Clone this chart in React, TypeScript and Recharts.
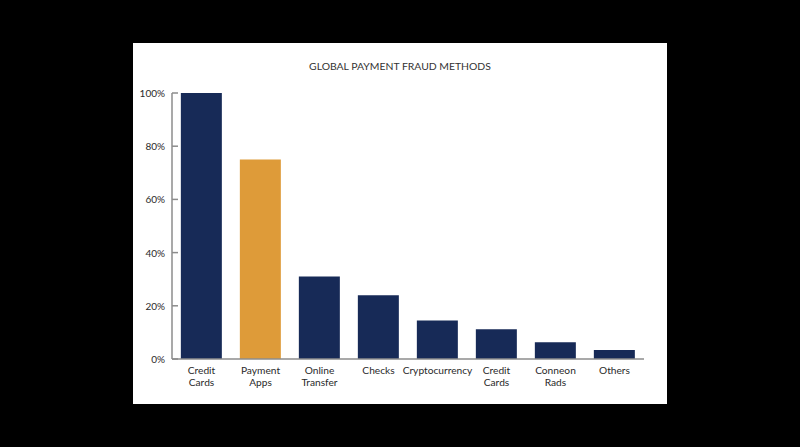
import React from "react";
import { BarChart, Bar, XAxis, YAxis, Cell } from "recharts";

const categories = [
  "Credit Cards",
  "Payment Apps",
  "Online Transfer",
  "Checks",
  "Cryptocurrency",
  "Credit Cards ",
  "Conneon Rads",
  "Others",
];
const values = [100, 75, 31, 24, 14.5, 11.2, 6.3, 3.4];
const yTicks = [0, 20, 40, 60, 80, 100];
const highlightIndex = 1;

const NAVY = "#172a57";
const ORANGE = "#de9b39";
const AXIS = "#8c8c8c";
const TEXT = "#2a2a2a";
const FONT = "Lato, 'Noto Sans', sans-serif";

const data = categories.map((c, i) => ({ name: c, value: values[i] }));

const YTick = (props: any) => {
  const { x, y, payload } = props;
  return (
    <g>
      <line x1={x + 7} x2={x + 13} y1={y} y2={y} stroke={AXIS} strokeWidth={1.5} />
      <text x={x} y={y} dy={4} textAnchor="end" fontSize={10} fill={TEXT} fontFamily={FONT}>
        {`${payload.value}%`}
      </text>
    </g>
  );
};

const XTick = (props: any) => {
  const { x, y, payload } = props;
  const words = String(payload.value).trim().split(" ");
  return (
    <g>
      {words.map((w: string, i: number) => (
        <text
          key={i}
          x={x}
          y={y + 15 + i * 11.5}
          textAnchor="middle"
          fontSize={10.2}
          fill={TEXT}
          fontFamily={FONT}
        >
          {w}
        </text>
      ))}
    </g>
  );
};

export default function App() {
  return (
    <div
      style={{
        position: "absolute",
        left: 0,
        top: 0,
        width: 800,
        height: 447,
        background: "#000",
      }}
    >
      <div
        style={{
          position: "absolute",
          left: 133,
          top: 43,
          width: 534,
          height: 361,
          background: "#fff",
        }}
      >
        <div
          style={{
            position: "absolute",
            left: 0,
            top: 17,
            width: 534,
            textAlign: "center",
            fontFamily: FONT,
            fontSize: 10.4,
            color: "#333",
          }}
        >
          GLOBAL PAYMENT FRAUD METHODS
        </div>
        <BarChart
          width={534}
          height={361}
          data={data}
          margin={{ top: 50, right: 23, left: 0, bottom: 0 }}
          barCategoryGap="15%"
        >
          <YAxis
            width={39}
            domain={[0, 100]}
            ticks={yTicks}
            interval={0}
            tickSize={0}
            tickMargin={7}
            tickLine={false}
            axisLine={{ stroke: AXIS, strokeWidth: 1.5 }}
            tick={<YTick />}
          />
          <XAxis
            dataKey="name"
            height={45}
            interval={0}
            tickLine={false}
            tickSize={0}
            tickMargin={0}
            axisLine={{ stroke: AXIS, strokeWidth: 1.5 }}
            tick={<XTick />}
          />
          <Bar dataKey="value" isAnimationActive={false}>
            {data.map((d, i) => (
              <Cell key={i} fill={i === highlightIndex ? ORANGE : NAVY} />
            ))}
          </Bar>
        </BarChart>
      </div>
    </div>
  );
}
